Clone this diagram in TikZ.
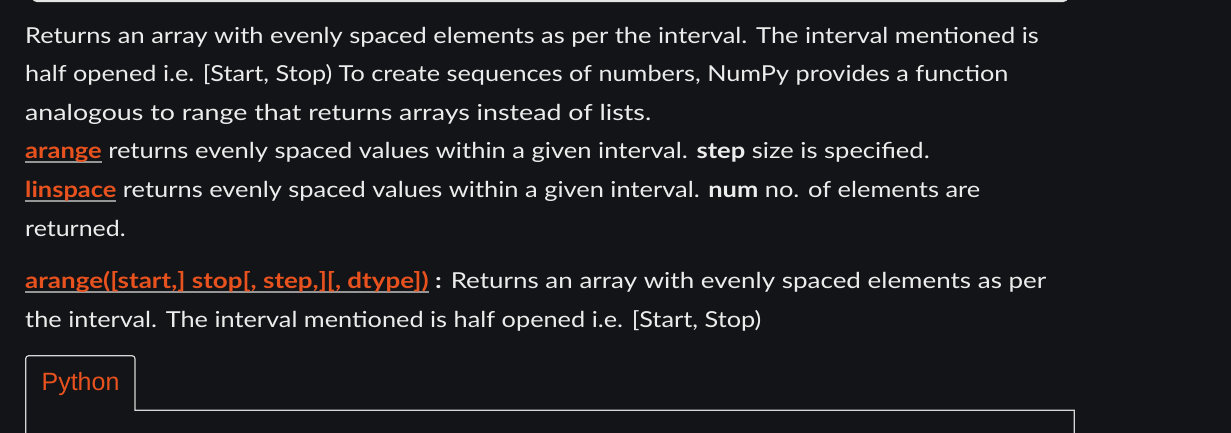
\documentclass[tikz,border=0pt]{standalone}
\usepackage{fontspec}
\setmainfont{Lato}
\newfontfamily\arialf{Liberation Sans}
\usepackage{graphicx}
\definecolor{bgc}{RGB}{19,20,23}
\definecolor{txt}{RGB}{236,236,236}
\definecolor{linkor}{RGB}{232,82,30}
\definecolor{ulgray}{RGB}{150,150,150}
\definecolor{framec}{RGB}{215,215,215}
\definecolor{barc}{RGB}{228,228,228}
\newsavebox\ulbox
\newcommand\ulink[1]{\sbox\ulbox{\textcolor{linkor}{\bfseries #1}}\rlap{\textcolor{ulgray}{\rule[-4pt]{\wd\ulbox}{2pt}}}\usebox\ulbox}
\newcommand\fitw[2]{\resizebox{#1}{\height}{#2}}
\tikzset{
  txtline/.style={anchor=base west, inner sep=0pt, text=txt, font=\fontsize{22}{26}\selectfont},
  tabtext/.style={anchor=base west, inner sep=0pt, text=linkor, font=\arialf\fontsize{25}{30}\selectfont},
  frameline/.style={draw=framec, line width=1.2pt}
}
\begin{document}
\begin{tikzpicture}[x=1pt,y=-1pt]
\useasboundingbox (0,0) rectangle (1231,433);
\clip (0,0) rectangle (1231,433);
\fill[bgc] (0,0) rectangle (1231,433);
% top bar (bottom edge of the box above)
\fill[barc, rounded corners=5pt] (32,-12) rectangle (1068,2.2);
% text lines
\node[txtline] (l1) at (25,43.3) {\fitw{1013.5pt}{Returns an array with evenly spaced elements as per the interval. The interval mentioned is}};
\node[txtline] (l2) at (25,81.8) {\fitw{983pt}{half opened i.e. [Start, Stop) To create sequences of numbers, NumPy provides a function}};
\node[txtline] (l3) at (25,120.3) {\fitw{626pt}{analogous to range that returns arrays instead of lists.}};
\node[txtline] (l4) at (25,158.9) {\fitw{904.5pt}{\ulink{arange} returns evenly spaced values within a given interval. \textbf{step} size is specified.}};
\node[txtline] (l5) at (25,197.6) {\fitw{955pt}{\ulink{linspace} returns evenly spaced values within a given interval. \textbf{num} no. of elements are}};
\node[txtline] (l6) at (25,236.2) {\fitw{100.5pt}{returned.}};
\node[txtline] (l7) at (25,288.6) {\fitw{1021pt}{\ulink{arange([start,] stop[, step,][, dtype])} \textbf{:} Returns an array with evenly spaced elements as per}};
\node[txtline] (l8) at (25,327.1) {\fitw{736pt}{the interval. The interval mentioned is half opened i.e. [Start, Stop)}};
% tab
\draw[frameline] (25.7,445) [rounded corners=3pt] -- (25.7,355.7) -- (135,355.7) -- (135,380) [sharp corners] -- (135,410.3) -- (1074.3,410.3) -- (1074.3,445);
\node[tabtext] (tab) at (41.4,390.7) {Python};
\end{tikzpicture}
\end{document}
